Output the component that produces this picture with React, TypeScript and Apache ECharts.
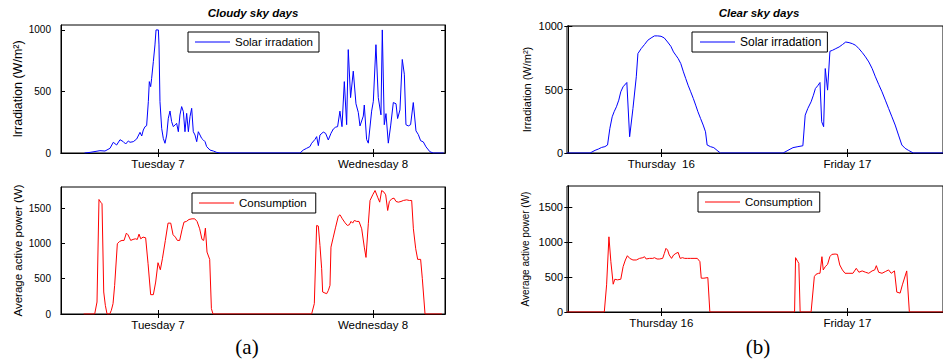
import React, { useEffect, useRef } from "react";
import * as echarts from "echarts";

// x values are hours counted from 00:00 of the first day shown
const cloudyDayTicks = [12, 36];
const cloudyDayLabels = ["Tuesday 7", "Wednesday 8"];
const clearDayTicks = [12, 36];
const clearDayLabelsTop = ["Thursday  16", "Friday 17"];
const clearDayLabelsBottom = ["Thursday 16", "Friday 17"];
const irrTicks = [0, 500, 1000];
const powerTicks = [0, 500, 1000, 1500];

// Solar irradiation, cloudy sky days (W/m2): [hour, value]
const cloudyIrradiation: [number, number][] = [
  [3.8, 0], [4.41, 5], [5.52, 19], [6.08, 16], [6.64, 38], [7.01, 87], [7.38, 65], [7.76, 108],
  [8.13, 92], [8.39, 73], [8.69, 98], [8.87, 87], [9.24, 92], [9.62, 114], [9.99, 168], [10.18, 138],
  [10.36, 187], [10.55, 214], [10.73, 222], [10.92, 417], [11.03, 580], [11.18, 539], [11.29, 607],
  [11.48, 743], [11.66, 878], [11.78, 1000], [12.04, 1000], [12.11, 878], [12.22, 417], [12.41, 200],
  [12.59, 119], [12.78, 79], [12.97, 146], [13.15, 282], [13.34, 341], [13.52, 255], [13.71, 214],
  [13.9, 228], [14.08, 241], [14.27, 173], [14.45, 309], [14.64, 377], [14.83, 336], [15.01, 173],
  [15.2, 322], [15.39, 173], [15.57, 295], [15.76, 363], [15.94, 173], [16.13, 146], [16.32, 92],
  [16.5, 173], [16.69, 146], [16.87, 119], [17.06, 106], [17.25, 92], [17.43, 52], [17.8, 24],
  [18.18, 16], [18.55, 5], [18.92, 0], [27.85, 0], [28.22, 24], [28.59, 38], [28.96, 52], [29.15, 79],
  [29.52, 110], [29.71, 133], [29.9, 60], [30.08, 146], [30.45, 170], [30.71, 160], [31.01, 106],
  [31.31, 160], [31.57, 195], [31.83, 210], [32.05, 214], [32.31, 340], [32.54, 214], [32.8, 580],
  [33.06, 230], [33.24, 840], [33.5, 450], [33.8, 665], [34.1, 400], [34.36, 330], [34.55, 220],
  [34.92, 300], [35.03, 390], [35.29, 110], [35.48, 80], [35.85, 340], [36.04, 420], [36.33, 880],
  [36.59, 450], [36.89, 310], [37.04, 1000], [37.26, 230], [37.45, 320], [37.71, 80], [37.97, 220],
  [38.27, 410], [38.57, 400], [38.75, 280], [39.01, 350], [39.27, 760], [39.5, 640], [39.68, 230],
  [39.94, 220], [40.2, 230], [40.5, 410], [40.8, 180], [41.06, 150], [41.32, 100], [41.62, 90],
  [41.92, 50], [42.36, 10], [42.73, 0], [43.9, 0],
];

// Average active power, cloudy sky days (W): [hour, value]
const cloudyConsumption: [number, number][] = [
  [3.7, 0], [4.93, 0], [5.19, 170], [5.41, 1623], [5.6, 1585], [5.75, 1562], [5.94, 312], [6.12, 123],
  [6.31, 0], [6.61, 0], [6.79, 52], [6.98, 147], [7.16, 406], [7.46, 996], [7.72, 1029], [7.98, 1043],
  [8.21, 1043], [8.47, 1146], [8.65, 1123], [8.95, 1043], [9.21, 1057], [9.47, 1066], [9.69, 1057],
  [9.88, 1132], [10.07, 1066], [10.33, 1090], [10.62, 1080], [10.89, 712], [11.18, 274], [11.48, 274],
  [11.74, 453], [12.0, 727], [12.26, 627], [12.49, 783], [12.82, 1043], [13.12, 1288], [13.42, 1288],
  [13.68, 1123], [13.94, 1090], [14.16, 1043], [14.42, 1043], [14.68, 1194], [14.9, 1302], [15.17, 1312],
  [15.46, 1340], [15.8, 1349], [16.1, 1349], [16.36, 1312], [16.65, 1208], [16.91, 1057], [17.1, 1043],
  [17.29, 1217], [17.47, 878], [17.77, 774], [17.96, 76], [18.14, 0], [29.15, 0], [29.45, 147],
  [29.71, 1255], [29.9, 1246], [30.08, 972], [30.27, 642], [30.38, 312], [30.64, 297], [30.83, 288],
  [31.02, 335], [31.2, 406], [31.31, 948], [31.57, 1090], [31.83, 1231], [32.13, 1387], [32.32, 1406],
  [32.58, 1349], [32.88, 1293], [33.14, 1255], [33.36, 1265], [33.55, 1312], [33.73, 1288], [33.92, 1326],
  [34.18, 1312], [34.44, 1312], [34.74, 1208], [35.03, 948], [35.22, 802], [35.48, 1279], [35.67, 1609],
  [35.97, 1689], [36.23, 1750], [36.52, 1656], [36.75, 1585], [36.97, 1750], [37.23, 1727], [37.42, 1689],
  [37.64, 1467], [37.83, 1595], [38.09, 1632], [38.35, 1642], [38.57, 1595], [38.83, 1585], [39.13, 1595],
  [39.39, 1609], [39.76, 1618], [40.06, 1609], [40.32, 1609], [40.51, 1208], [40.77, 925], [40.99, 774],
  [41.32, 774], [41.51, 500], [41.81, 0], [43.7, 0],
];

// Solar irradiation, clear sky days (W/m2): [hour, value]
const clearIrradiation: [number, number][] = [
  [-0.2, 0], [2.81, 0], [3.45, 21], [3.87, 31], [4.3, 44], [4.72, 50], [5.06, 63], [5.36, 194],
  [5.66, 285], [5.91, 325], [6.21, 364], [6.51, 416], [6.77, 482], [7.06, 521], [7.55, 555], [7.91, 128],
  [8.34, 351], [8.77, 600], [8.98, 783], [9.4, 822], [9.83, 854], [10.26, 888], [10.68, 906], [11.11, 922],
  [11.53, 922], [11.96, 919], [12.38, 906], [12.81, 874], [13.23, 840], [13.57, 796], [13.87, 770],
  [14.17, 744], [14.51, 704], [14.85, 639], [15.15, 586], [15.45, 534], [15.79, 482], [16.13, 429],
  [16.43, 377], [16.72, 325], [17.06, 272], [17.4, 220], [17.7, 167], [17.91, 63], [18.34, 50],
  [18.77, 42], [19.19, 21], [19.62, 0], [27.71, 0], [28.34, 21], [28.98, 42], [29.62, 50], [30.26, 57],
  [30.56, 298], [30.9, 351], [31.32, 403], [31.62, 455], [31.88, 508], [32.17, 529], [32.47, 555],
  [32.69, 246], [32.94, 207], [33.15, 665], [33.45, 495], [33.75, 801], [34.09, 809], [34.51, 822],
  [34.94, 835], [35.37, 854], [35.79, 874], [36.22, 869], [36.64, 861], [37.07, 848], [37.49, 822],
  [37.92, 791], [38.34, 757], [38.77, 717], [39.2, 665], [39.62, 600], [40.05, 539], [40.47, 482],
  [40.9, 416], [41.32, 351], [41.75, 285], [42.17, 220], [42.6, 141], [43.03, 63], [43.45, 37],
  [43.88, 21], [44.51, 0], [48.5, 0],
];

// Average active power, clear sky days (W): [hour, value]
const clearConsumption: [number, number][] = [
  [-0.2, 0], [4.64, 0], [4.94, 388], [5.24, 1074], [5.49, 719], [5.79, 397], [6.0, 468], [6.34, 459],
  [6.77, 468], [7.07, 648], [7.36, 743], [7.62, 804], [7.92, 766], [8.34, 743], [8.77, 743], [9.19, 766],
  [9.62, 776], [9.83, 790], [10.05, 757], [10.47, 766], [10.9, 766], [11.11, 776], [11.45, 757],
  [11.75, 757], [12.17, 766], [12.39, 837], [12.6, 909], [12.81, 885], [13.02, 814], [13.32, 766],
  [13.58, 814], [13.88, 837], [14.17, 852], [14.43, 766], [14.73, 776], [15.02, 766], [15.36, 766],
  [15.79, 766], [16.22, 766], [16.64, 766], [16.98, 719], [17.15, 483], [17.49, 483], [18.0, 492],
  [18.26, 0], [29.19, 0], [29.32, 776], [29.61, 719], [29.74, 695], [29.91, 0], [31.32, 0], [31.74, 506],
  [31.96, 539], [32.3, 553], [32.47, 553], [32.72, 790], [32.89, 601], [33.15, 648], [33.45, 681],
  [33.74, 790], [34.0, 823], [34.42, 828], [34.72, 823], [35.02, 672], [35.36, 601], [35.7, 553],
  [36.21, 553], [36.72, 553], [37.15, 624], [37.49, 568], [37.91, 587], [38.34, 568], [38.76, 553],
  [39.19, 587], [39.53, 601], [39.74, 662], [40.04, 568], [40.47, 553], [40.89, 577], [41.32, 601],
  [41.66, 553], [42.08, 587], [42.38, 284], [42.81, 270], [43.1, 388], [43.66, 587], [44.0, 0], [48.5, 0],
];

const FONT = "Liberation Sans, Arial, Helvetica, sans-serif";

function labelFor(ticks: number[], labels: string[]) {
  return (v: number) => {
    const i = ticks.findIndex((t) => Math.abs(t - v) < 1e-6);
    return i >= 0 ? labels[i] : "";
  };
}

export default function App() {
  const ref = useRef<HTMLDivElement>(null);

  useEffect(() => {
    if (!ref.current) return;
    const chart = echarts.init(ref.current, undefined, { renderer: "svg" });

    const grids = [
      { left: 61, top: 25, width: 384, height: 128 },
      { left: 61, top: 187, width: 384, height: 127 },
      { left: 567, top: 26, width: 380, height: 127 },
      { left: 567, top: 186, width: 380, height: 126 },
    ].map((g) => ({ ...g, show: true, borderColor: "#000", borderWidth: 1, backgroundColor: "transparent" }));

    const xRanges = [
      { min: 1.17, max: 44.04, ticks: cloudyDayTicks, labels: cloudyDayLabels },
      { min: 1.17, max: 44.04, ticks: cloudyDayTicks, labels: cloudyDayLabels },
      { min: -0.17, max: 48.34, ticks: clearDayTicks, labels: clearDayLabelsTop },
      { min: -0.17, max: 48.34, ticks: clearDayTicks, labels: clearDayLabelsBottom },
    ];

    const xAxis: any[] = [];
    xRanges.forEach((r, i) => {
      xAxis.push({
        type: "value",
        gridIndex: i,
        position: "bottom",
        min: r.min,
        max: r.max,
        splitLine: { show: false },
        axisLine: { show: true, lineStyle: { color: "#000", width: 1 } },
        axisTick: { show: true, inside: true, length: 4, customValues: r.ticks, lineStyle: { color: "#000" } },
        axisLabel: {
          show: true,
          customValues: r.ticks,
          formatter: labelFor(r.ticks, r.labels),
          color: "#000",
          fontFamily: FONT,
          fontSize: 11.5,
          margin: 5,
        },
      });
      xAxis.push({
        type: "value",
        gridIndex: i,
        position: "top",
        min: r.min,
        max: r.max,
        splitLine: { show: false },
        axisLine: { show: true, lineStyle: { color: "#000", width: 1 } },
        axisTick: { show: true, inside: true, length: 4, customValues: r.ticks, lineStyle: { color: "#000" } },
        axisLabel: { show: false },
      });
    });

    const yDefs = [
      { max: 1040, ticks: irrTicks, name: "Irradiation (W/m²)", nameSize: 12.5, nameGap: 36, labelSize: 10, labelMargin: 10 },
      { max: 1800, ticks: powerTicks, name: "Average active power (W)", nameSize: 11.5, nameGap: 37, labelSize: 10, labelMargin: 10 },
      { max: 1000, ticks: irrTicks, name: "Irradiation (W/m²)", nameSize: 11, nameGap: 35, labelSize: 11, labelMargin: 4 },
      { max: 1800, ticks: powerTicks, name: "Average active power (W)", nameSize: 10, nameGap: 37, labelSize: 11, labelMargin: 4 },
    ];

    const yAxis: any[] = [];
    yDefs.forEach((d, i) => {
      yAxis.push({
        type: "value",
        gridIndex: i,
        position: "left",
        min: 0,
        max: d.max,
        interval: 500,
        name: d.name,
        nameLocation: "middle",
        nameGap: d.nameGap,
        nameTextStyle: { color: "#000", fontFamily: FONT, fontSize: d.nameSize },
        splitLine: { show: false },
        axisLine: { show: true, lineStyle: { color: "#000", width: 1 } },
        axisTick: { show: true, inside: true, length: 4, customValues: d.ticks, lineStyle: { color: "#000" } },
        axisLabel: {
          customValues: d.ticks,
          formatter: (v: number) => String(v),
          color: "#000",
          fontFamily: FONT,
          fontSize: d.labelSize,
          margin: d.labelMargin,
        },
      });
      yAxis.push({
        type: "value",
        gridIndex: i,
        position: "right",
        min: 0,
        max: d.max,
        interval: 500,
        splitLine: { show: false },
        axisLine: { show: true, lineStyle: { color: "#000", width: 1 } },
        axisTick: { show: true, inside: true, length: 4, customValues: d.ticks, lineStyle: { color: "#000" } },
        axisLabel: { show: false },
      });
    });

    const seriesDefs = [
      { name: "Solar irradation", data: cloudyIrradiation, color: "#0000ff" },
      { name: "Consumption", data: cloudyConsumption, color: "#ff0000" },
      { name: "Solar irradation", data: clearIrradiation, color: "#0000ff" },
      { name: "Consumption", data: clearConsumption, color: "#ff0000" },
    ];

    const series = seriesDefs.map((s, i) => ({
      type: "line",
      name: s.name,
      xAxisIndex: i * 2,
      yAxisIndex: i * 2,
      data: s.data,
      symbol: "none",
      showSymbol: false,
      clip: true,
      color: s.color,
      lineStyle: { color: s.color, width: 1 },
    }));

    const legendBase = {
      orient: "horizontal",
      backgroundColor: "#fff",
      borderColor: "#000",
      borderWidth: 1,
      borderRadius: 0,
      icon: "rect",
      itemWidth: 35,
      itemHeight: 1.2,
      itemGap: 5,
      selectedMode: false,
      textStyle: { color: "#000", fontFamily: FONT, fontSize: 11.5, lineHeight: 14 },
    };

    const legend = [
      { ...legendBase, data: ["Solar irradation"], left: 188, top: 32, padding: [3, 6, 3, 7] },
      { ...legendBase, data: ["Consumption"], left: 192, top: 193, padding: [3, 9, 3, 7] },
      { ...legendBase, data: ["Solar irradation"], left: 692, top: 32, padding: [3, 6, 3, 8], textStyle: { ...legendBase.textStyle, fontSize: 12 } },
      { ...legendBase, data: ["Consumption"], left: 698, top: 192, padding: [3, 7, 3, 7] },
    ];

    const titleStyle = {
      align: "center",
      verticalAlign: "middle",
      fontFamily: FONT,
      fontSize: 11.5,
      fontWeight: "bold",
      fontStyle: "italic",
      fill: "#000",
    };
    const panelStyle = {
      align: "center",
      verticalAlign: "middle",
      fontFamily: "Liberation Serif, Times New Roman, serif",
      fontSize: 21,
      fill: "#000",
    };

    const graphic = [
      { type: "text", x: 253, y: 13, style: { ...titleStyle, text: "Cloudy sky days" } },
      { type: "text", x: 759, y: 13, style: { ...titleStyle, text: "Clear sky days" } },
      { type: "text", x: 247, y: 347, style: { ...panelStyle, text: "(a)" } },
      { type: "text", x: 758, y: 347, style: { ...panelStyle, text: "(b)" } },
    ];

    chart.setOption({
      animation: false,
      backgroundColor: "#fff",
      grid: grids,
      xAxis,
      yAxis,
      series,
      legend,
      graphic,
    });

    return () => chart.dispose();
  }, []);

  return (
    <div
      ref={ref}
      style={{ position: "absolute", left: 0, top: 0, width: 943, height: 362, background: "#fff", overflow: "hidden" }}
    />
  );
}
